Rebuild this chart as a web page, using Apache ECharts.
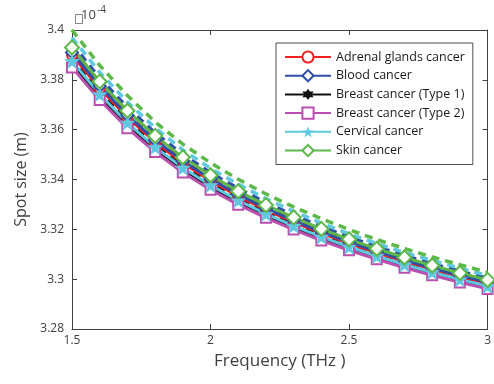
<!DOCTYPE html>
<html>
<head>
<meta charset="utf-8">
<script src="https://cdn.jsdelivr.net/npm/echarts@6/dist/echarts.min.js"></script>
<style>html,body{margin:0;padding:0;background:#fff}#c{width:494px;height:384px}</style>
</head>
<body>
<div id="c"></div>
<script>
// Frequency (THz)
const freq = [1.5,1.6,1.7,1.8,1.9,2.0,2.1,2.2,2.3,2.4,2.5,2.6,2.7,2.8,2.9,3.0];
// Spot size (x1e-4 m), solid lines with markers
const adrenal  = [3.3900,3.3765,3.3650,3.3550,3.3466,3.3395,3.3333,3.3278,3.3229,3.3185,3.3144,3.3106,3.3072,3.3040,3.3011,3.2983];
const blood    = [3.3910,3.3775,3.3658,3.3558,3.3474,3.3402,3.3340,3.3284,3.3235,3.3190,3.3149,3.3112,3.3077,3.3045,3.3015,3.2988];
const breast1  = [3.3867,3.3735,3.3621,3.3524,3.3441,3.3371,3.3311,3.3257,3.3209,3.3165,3.3126,3.3089,3.3055,3.3024,3.2995,3.2968];
const breast2  = [3.3850,3.3719,3.3606,3.3510,3.3428,3.3359,3.3299,3.3246,3.3199,3.3155,3.3116,3.3080,3.3046,3.3016,3.2987,3.2961];
const cervical = [3.3875,3.3742,3.3628,3.3530,3.3447,3.3377,3.3316,3.3262,3.3214,3.3170,3.3130,3.3093,3.3059,3.3028,3.2999,3.2972];
const skin     = [3.3930,3.3793,3.3676,3.3575,3.3489,3.3417,3.3353,3.3297,3.3248,3.3202,3.3160,3.3122,3.3087,3.3055,3.3025,3.2997];
// dashed companion curves
const adrenalD  = [3.3925,3.3789,3.3672,3.3571,3.3485,3.3413,3.3350,3.3294,3.3245,3.3199,3.3158,3.3120,3.3085,3.3053,3.3023,3.2995];
const bloodD    = [3.3945,3.3807,3.3689,3.3587,3.3500,3.3427,3.3364,3.3307,3.3257,3.3211,3.3169,3.3130,3.3095,3.3062,3.3032,3.3004];
const breast1D  = [3.3890,3.3756,3.3641,3.3542,3.3458,3.3388,3.3326,3.3272,3.3223,3.3179,3.3138,3.3101,3.3067,3.3035,3.3006,3.2979];
const breast2D  = [3.3865,3.3733,3.3619,3.3522,3.3439,3.3370,3.3309,3.3256,3.3208,3.3164,3.3124,3.3088,3.3054,3.3023,3.2994,3.2967];
const cervicalD = [3.3970,3.3830,3.3711,3.3607,3.3519,3.3445,3.3381,3.3323,3.3272,3.3225,3.3182,3.3143,3.3107,3.3075,3.3044,3.3015];
const skinD     = [3.4000,3.3858,3.3737,3.3631,3.3542,3.3467,3.3401,3.3342,3.3290,3.3243,3.3199,3.3159,3.3123,3.3089,3.3058,3.3028];

const names = ['Adrenal glands cancer','Blood cancer','Breast cancer (Type 1)','Breast cancer (Type 2)','Cervical cancer','Skin cancer'];
const colors = ['#ee2222','#2f4ea6','#111111','#bb4fae','#5ec8e0','#5cb848'];
const solid = [adrenal, blood, breast1, breast2, cervical, skin];
const dashed = [adrenalD, bloodD, breast1D, breast2D, cervicalD, skinD];

const pent = 'path://M0,-10 L2.35,-3.24 L9.51,-3.09 L3.8,1.24 L5.88,8.09 L0,4 L-5.88,8.09 L-3.8,1.24 L-9.51,-3.09 L-2.35,-3.24 Z';
const hexa = 'path://M0,-10 L2.89,-5 L8.66,-5 L5.77,0 L8.66,5 L2.89,5 L0,10 L-2.89,5 L-8.66,5 L-5.77,0 L-8.66,-5 L-2.89,-5 Z';
const symbols = ['emptyCircle','emptyDiamond',hexa,'emptyRect',pent,'emptyDiamond'];
const sizes = [10,12,11,10,16,14];

const pairs = arr => freq.map((f,i)=>[f,arr[i]]);

const series = [];
dashed.forEach((d,i)=>{
  series.push({type:'line', name:names[i]+' (d)', data:pairs(d), showSymbol:false, symbol:'none',
    lineStyle:{color:colors[i], width:3.5, type:[8,6]}, itemStyle:{color:colors[i]}, z:2, silent:true, animation:false});
});
solid.forEach((d,i)=>{
  const filled = (i===2||i===4);
  series.push({type:'line', name:names[i], data:pairs(d), symbol:symbols[i], symbolSize:sizes[i],
    lineStyle:{color:colors[i], width:3},
    itemStyle: filled ? {color:colors[i]} : {color:colors[i], borderColor:colors[i], borderWidth:2},
    z:3, animation:false});
});

const axColor = '#404040';
const font = 'Open Sans';
const chart = echarts.init(document.getElementById('c'), null, {renderer:'canvas'});
chart.setOption({
  animation:false,
  backgroundColor:'#fff',
  grid:{left:72, right:1, top:30, bottom:55, containLabel:false},
  xAxis:[{type:'value', min:1.5, max:3, interval:0.5, position:'bottom',
    axisLine:{show:true, lineStyle:{color:axColor, width:1}},
    axisTick:{show:true, inside:true, length:5, lineStyle:{color:axColor}},
    axisLabel:{color:axColor, fontSize:12, fontFamily:font, margin:6, formatter:v=>String(+v.toFixed(2))},
    splitLine:{show:false},
    name:'Frequency (THz )', nameLocation:'middle', nameGap:24,
    nameTextStyle:{color:axColor, fontSize:17, fontFamily:font}},
   {type:'value', min:1.5, max:3, interval:0.5, position:'top',
    axisLine:{show:true, lineStyle:{color:axColor, width:1}},
    axisTick:{show:true, inside:true, length:5, lineStyle:{color:axColor}},
    axisLabel:{show:false}, splitLine:{show:false}}],
  yAxis:[{type:'value', min:3.28, max:3.4, interval:0.02, position:'left',
    axisLine:{show:true, lineStyle:{color:axColor, width:1}},
    axisTick:{show:true, inside:true, length:5, lineStyle:{color:axColor}},
    axisLabel:{color:axColor, fontSize:12, fontFamily:font, margin:8, formatter:v=>String(+v.toFixed(2))},
    splitLine:{show:false},
    name:'Spot size (m)', nameLocation:'middle', nameGap:43, nameRotate:90,
    nameTextStyle:{color:axColor, fontSize:16, fontFamily:font}},
   {type:'value', min:3.28, max:3.4, interval:0.02, position:'right',
    axisLine:{show:true, lineStyle:{color:axColor, width:1}},
    axisTick:{show:true, inside:true, length:5, lineStyle:{color:axColor}},
    axisLabel:{show:false}, splitLine:{show:false}}],
  legend:{data:names, orient:'vertical', left:276, top:43, padding:[7,8,7,8], itemGap:4.7,
    itemWidth:46, itemHeight:14, backgroundColor:'#fff', borderColor:'#222', borderWidth:0.8,
    textStyle:{color:'#1a1a1a', fontSize:12.5, fontFamily:font, lineHeight:14}},
  graphic:[
    {type:'rect', left:73, top:12, shape:{width:7, height:9}, style:{fill:'none', stroke:'#666', lineWidth:0.8}},
    {type:'text', left:81, top:9, style:{text:'10', fill:axColor, fontSize:13, fontFamily:font}},
    {type:'text', left:97, top:5, style:{text:'-4', fill:axColor, fontSize:10, fontFamily:font}}
  ],
  series:series
});
</script>
</body>
</html>
